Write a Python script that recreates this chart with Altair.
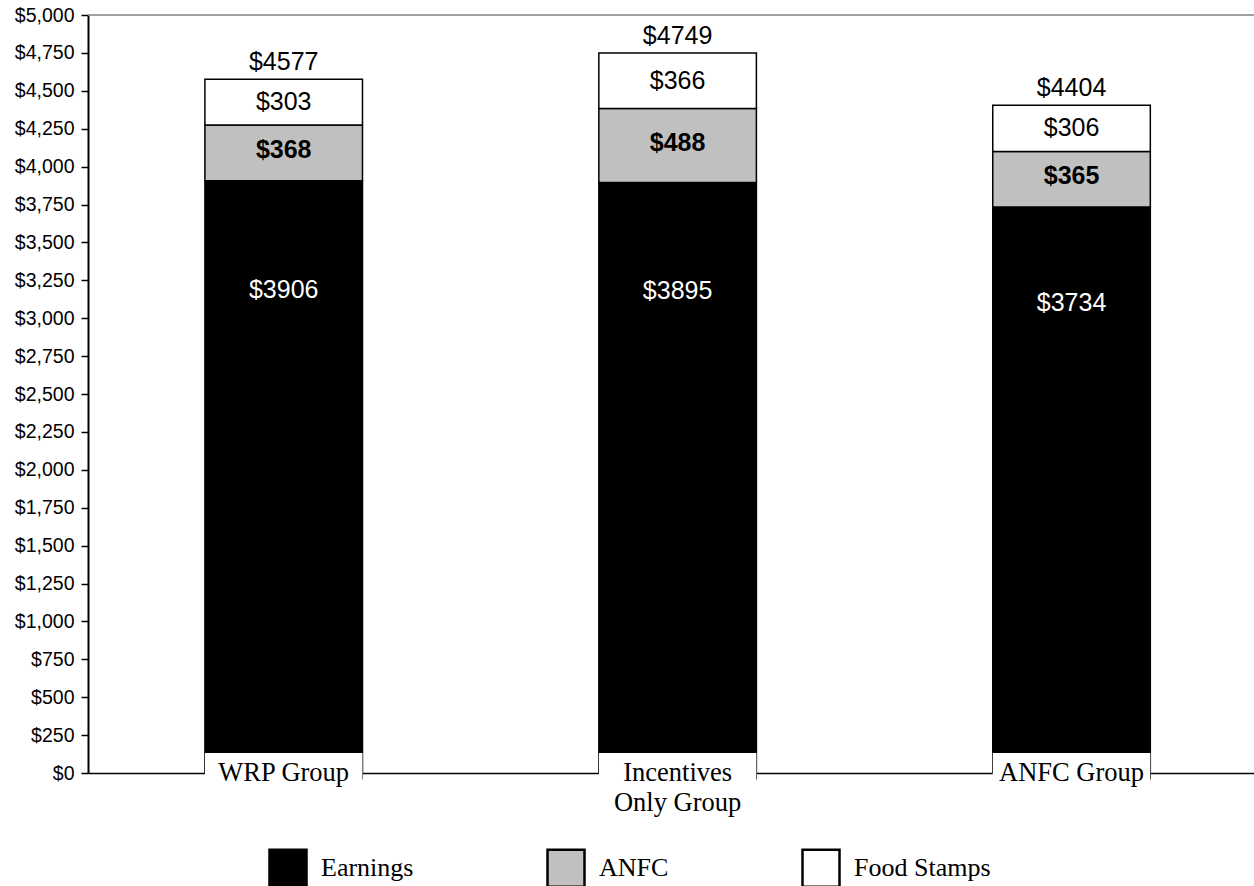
import altair as alt
import pandas as pd

groups = ["WRP Group", "Incentives Only Group", "ANFC Group"]
group_labels = ["WRP Group", "Incentives\nOnly Group", "ANFC Group"]
series = ["Earnings", "ANFC", "Food Stamps"]
earnings = [3906, 3895, 3734]
anfc = [368, 488, 365]
food_stamps = [303, 366, 306]
totals = [4577, 4749, 4404]
y_ticks = list(range(0, 5001, 250))

rows = []
for i, g in enumerate(groups):
    for k, (s, vals) in enumerate(zip(series, [earnings, anfc, food_stamps])):
        rows.append({"group": g, "series": s, "value": vals[i], "order": k,
                     "label": "$" + str(vals[i])})
df = pd.DataFrame(rows)
tot_df = pd.DataFrame({"group": groups, "total": totals,
                       "label": ["$" + str(t) for t in totals]})
cat_df = pd.DataFrame({"group": groups, "label": group_labels})
top_df = pd.DataFrame({"y": [5000]})

SANS = "Liberation Sans"
SERIF = "Liberation Serif"

xscale = alt.Scale(domain=groups, paddingInner=0.6, paddingOuter=0.28, align=0.53)
x_axis = alt.Axis(title=None, labels=False, domainColor="black",
                  domainWidth=1.5, tickBand="extent", tickColor="black",
                  tickSize=6, tickWidth=1)
yscale = alt.Scale(domain=[0, 5000], nice=False, zero=True)
y_axis = alt.Axis(values=y_ticks, format="$,.0f", title=None, grid=False,
                  labelFont=SANS, labelFontSize=19.5, labelColor="black",
                  labelOverlap=False, labelFlush=False,
                  domainColor="black", domainWidth=2, tickColor="black",
                  tickSize=7, tickWidth=1.5, labelPadding=7)

def xq():
    return alt.X("group:N", sort=groups, scale=xscale, axis=x_axis)

def yq(field):
    return alt.Y(field, scale=yscale, axis=y_axis)

bars = alt.Chart(df).mark_bar(stroke="black", strokeWidth=1.5).encode(
    x=xq(),
    y=alt.Y("value:Q", stack="zero", scale=yscale, axis=y_axis),
    color=alt.Color("series:N",
                    scale=alt.Scale(domain=series, range=["#000000", "#c0c0c0", "#ffffff"]),
                    legend=alt.Legend(title=None, orient="none", direction="horizontal",
                                      legendX=180, legendY=833, symbolType="square",
                                      symbolSize=1369, symbolStrokeColor="black",
                                      symbolStrokeWidth=2.5, labelFont=SERIF,
                                      labelFontSize=26, labelColor="black",
                                      labelOffset=13, columnPadding=128, padding=0)),
    order=alt.Order("order:Q", sort="ascending"),
)

stacked = alt.Chart(df).transform_stack(
    stack="value", groupby=["group"], as_=["y0", "y1"],
    sort=[alt.SortField("order", order="ascending")]
).transform_calculate(
    ly="datum.series == 'Earnings' ? (datum.y0 + datum.y1) / 2 + 1230 : (datum.y0 + datum.y1) / 2"
)

earn_txt = stacked.transform_filter("datum.series == 'Earnings'").mark_text(
    font=SANS, fontSize=25, color="white", baseline="middle").encode(
    x=xq(), y=yq("ly:Q"), text="label:N")
anfc_txt = stacked.transform_filter("datum.series == 'ANFC'").mark_text(
    font=SANS, fontSize=25, fontWeight="bold", color="black", baseline="middle", dy=-3).encode(
    x=xq(), y=yq("ly:Q"), text="label:N")
fs_txt = stacked.transform_filter("datum.series == 'Food Stamps'").mark_text(
    font=SANS, fontSize=25, color="black", baseline="middle").encode(
    x=xq(), y=yq("ly:Q"), text="label:N")

tot_txt = alt.Chart(tot_df).mark_text(
    font=SANS, fontSize=25, color="black", baseline="bottom", dy=-4).encode(
    x=xq(), y=yq("total:Q"), text="label:N")

top_rule = alt.Chart(top_df).mark_rule(color="#808080", strokeWidth=1.5).encode(
    y=yq("y:Q"))

cat_box = alt.Chart(cat_df).mark_bar(color="white", stroke=None).encode(
    x=xq(), y=alt.value(738), y2=alt.value(790))
cat_txt = alt.Chart(cat_df).mark_text(
    font=SERIF, fontSize=26.5, color="black", baseline="top",
    lineBreak="\n", lineHeight=30).encode(
    x=xq(), y=alt.value(745), text="label:N")

chart = alt.layer(bars, top_rule, earn_txt, anfc_txt, fs_txt, tot_txt, cat_box, cat_txt).properties(
    width=1166, height=758,
    autosize=alt.AutoSizeParams(type="none"),
    padding={"left": 88, "top": 15, "right": 0, "bottom": 113},
    background="white",
).configure_view(stroke=None)

chart.save("out.html", embed_options={"renderer": "svg", "actions": False})
